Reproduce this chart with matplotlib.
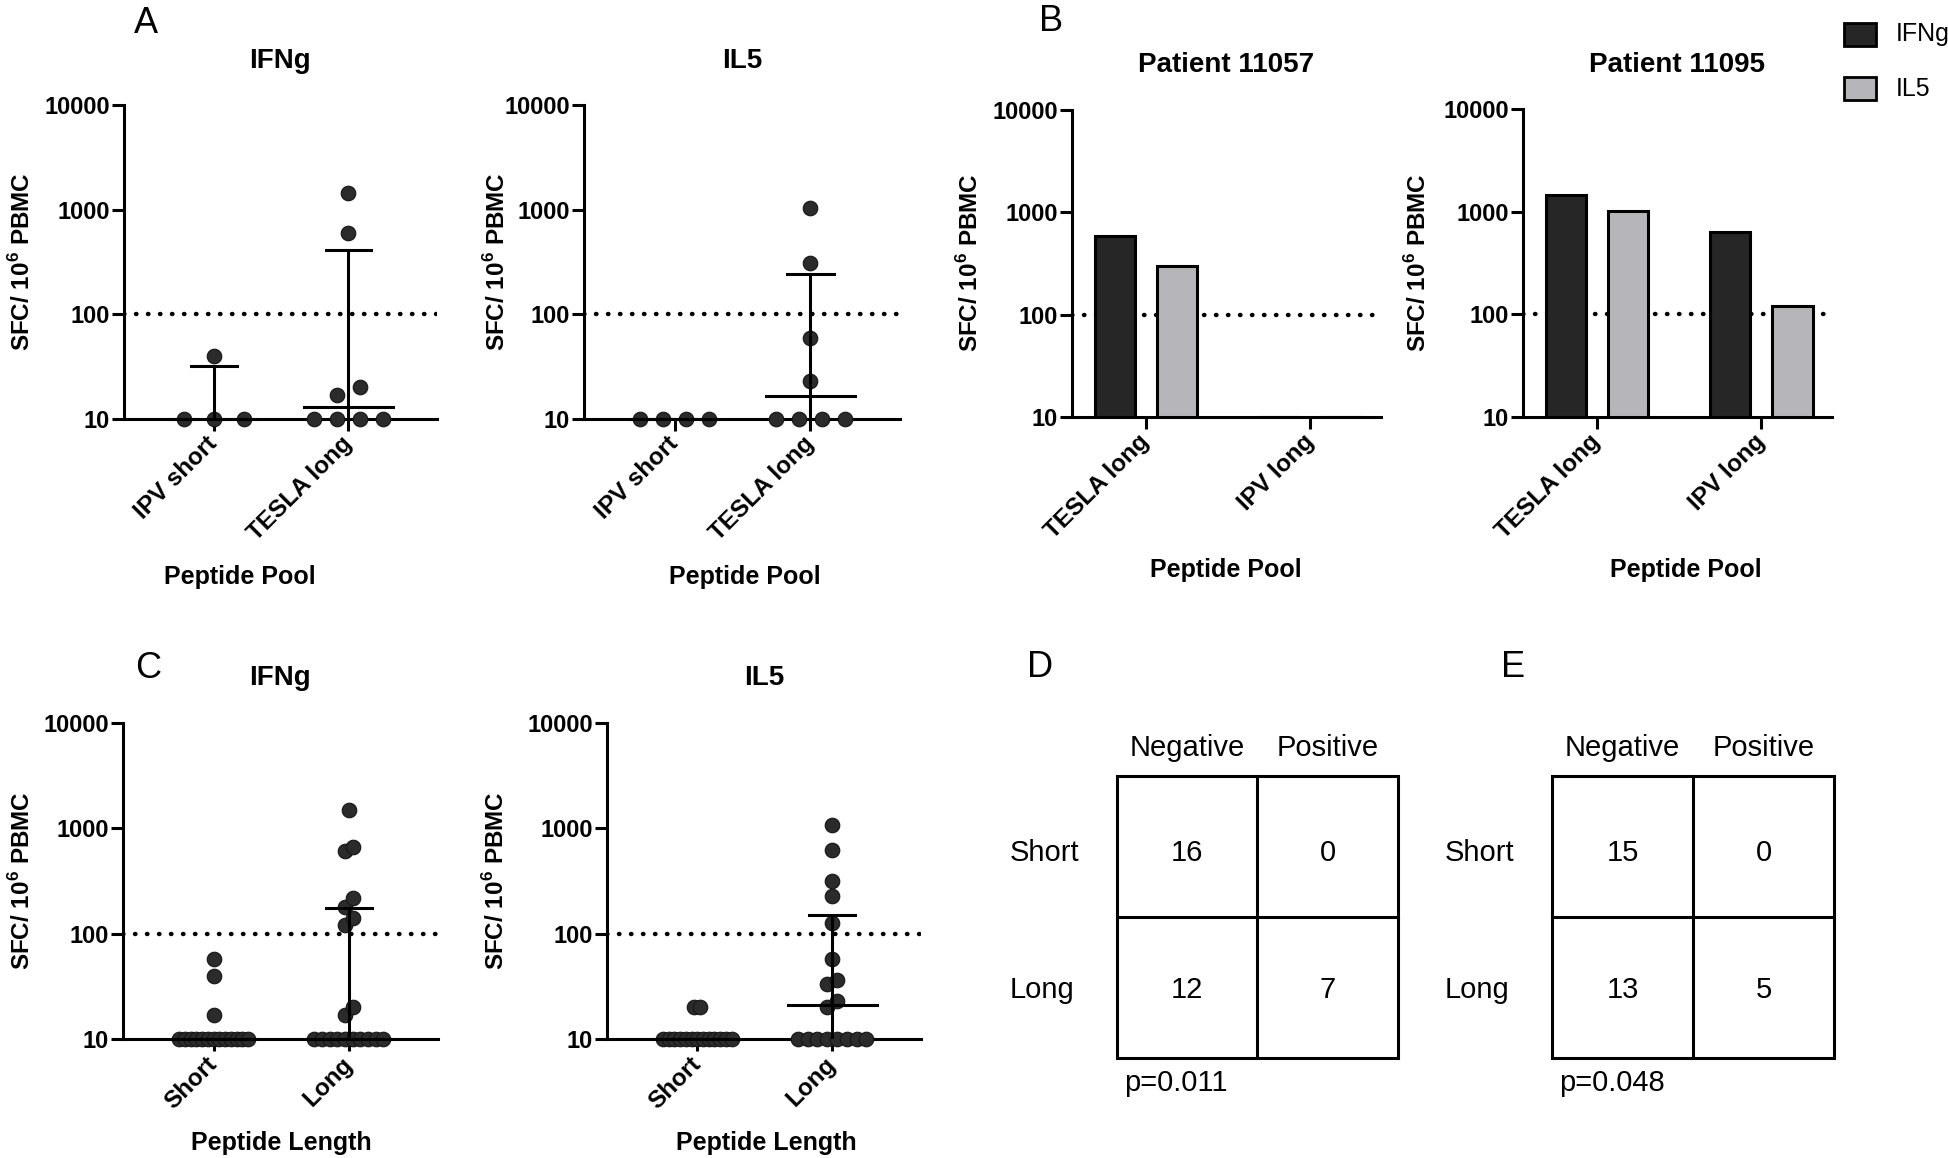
import numpy as np
import matplotlib
matplotlib.use('Agg')
import matplotlib.pyplot as plt
from matplotlib.patches import Rectangle
from matplotlib.ticker import NullLocator

plt.rcParams['font.family'] = ['Liberation Sans', 'DejaVu Sans']
plt.rcParams['mathtext.fontset'] = 'custom'
plt.rcParams['mathtext.rm'] = 'Liberation Sans'
plt.rcParams['mathtext.bf'] = 'Liberation Sans:bold'

W, H = 1949, 1158

# ---- panel A: spots per 10^6 PBMC by peptide pool
pools_a = ['IPV short', 'TESLA long']
a_ifng = [[10, 10, 10, 40], [10, 10, 10, 10, 17, 20, 601, 1456]]
a_ifng_median = [10, 13]
a_ifng_q3 = [32, 409]
a_il5 = [[10, 10, 10, 10], [10, 10, 10, 10, 23, 60, 311, 1043]]
a_il5_median = [10, 16.5]
a_il5_q3 = [10, 245]

# ---- panel B: single patients
pools_b = ['TESLA long', 'IPV long']
b_11057_ifng = [591, 10]
b_11057_il5 = [296, 10]
b_11095_ifng = [1443, 629]
b_11095_il5 = [1016, 121]

# ---- panel C: by peptide length
lengths = ['Short', 'Long']
c_ifng = [[10] * 13 + [17, 40, 57],
          [10] * 10 + [17, 20, 120, 141, 180, 220, 606, 662, 1483]]
c_ifng_median = [10, 10]
c_ifng_q3 = [10, 176]
c_il5 = [[10] * 13 + [20, 20],
         [10] * 8 + [20, 23, 33, 36, 57, 126, 228, 313, 620, 1076]]
c_il5_median = [10, 21]
c_il5_q3 = [10, 150]

# ---- panels D, E: contingency tables
table_cols = ['Negative', 'Positive']
table_rows = ['Short', 'Long']
d_counts = [[16, 0], [12, 7]]
e_counts = [[15, 0], [13, 5]]
d_p = 'p=0.011'
e_p = 'p=0.048'

floor_val = 10
cutoff = 100

DOT = '#2b2b2b'
IFNG_C = '#262626'
IL5_C = '#b6b6ba'
YLAB = r'SFC/ 10$^{\mathbf{6}}$ PBMC'


def px_rect(l, t, r, b):
    return [l / W, 1 - b / H, (r - l) / W, (b - t) / H]


def swarm(vals, step):
    # spread points with (almost) equal values side by side
    v = np.log10(np.asarray(vals, float))
    order = np.argsort(v, kind='stable')
    groups, cur = [], [order[0]]
    for i in order[1:]:
        if v[i] - v[cur[-1]] < 0.1:
            cur.append(i)
        else:
            groups.append(cur)
            cur = [i]
    groups.append(cur)
    off = np.zeros(len(v))
    for g in groups:
        n = len(g)
        off[g] = (np.arange(n) - (n - 1) / 2) * step
    return off


def col_step(vals):
    v = np.round(np.log10(vals), 1)
    _, counts = np.unique(v, return_counts=True)
    nmax = counts.max()
    return min(0.22, 0.51 / max(nmax - 1, 1))


def style(ax, labels, xlim):
    ax.set_yscale('log')
    ax.set_ylim(10, 10000)
    ax.set_xlim(*xlim)
    ax.set_yticks([10, 100, 1000, 10000])
    ax.set_yticklabels(['10', '100', '1000', '10000'])
    ax.yaxis.set_minor_locator(NullLocator())
    ax.set_xticks(range(len(labels)))
    ax.set_xticklabels(labels, rotation=45, ha='right', va='center',
                       rotation_mode='anchor')
    for s in ['top', 'right']:
        ax.spines[s].set_visible(False)
    for s in ['left', 'bottom']:
        ax.spines[s].set_linewidth(2.2)
    ax.tick_params(length=8.6, width=2.2)
    ax.tick_params(axis='y', pad=1.5, labelsize=17)
    ax.tick_params(axis='x', pad=7, labelsize=17.5)
    for lab in ax.get_xticklabels() + ax.get_yticklabels():
        lab.set_fontweight('bold')
    ax.patch.set_visible(False)
    ax.axhline(cutoff, color='k', lw=3.2, ls=(0, (0.1, 2.6)),
               dash_capstyle='round', zorder=1)


def dot_panel(ax, groups, med, q3, labels):
    style(ax, labels, (-0.67, 1.66))
    for i, vals in enumerate(groups):
        off = swarm(vals, col_step(vals))
        ax.scatter(i + off, vals, s=110, color=DOT, edgecolors='#151515',
                   linewidths=0.8, zorder=3, clip_on=False)
        ax.plot([i, i], [floor_val, q3[i]], color='k', lw=2.2, zorder=4)
        ax.plot([i - 0.17, i + 0.17], [q3[i], q3[i]], color='k', lw=2.2, zorder=4)
        ax.plot([i - 0.33, i + 0.33], [med[i], med[i]], color='k', lw=2.2,
                zorder=4, clip_on=False)


def bar_panel(ax, ifng, il5):
    style(ax, pools_b, (-0.45, 1.43))
    x = np.arange(len(pools_b))
    ax.bar(x - 0.19, np.array(ifng) - floor_val, bottom=floor_val, width=0.245,
           color=IFNG_C, edgecolor='k', linewidth=2.2, zorder=3)
    ax.bar(x + 0.19, np.array(il5) - floor_val, bottom=floor_val, width=0.245,
           color=IL5_C, edgecolor='k', linewidth=2.2, zorder=3)


fig = plt.figure(figsize=(W / 100, H / 100), dpi=100)
ov = fig.add_axes([0, 0, 1, 1])
ov.set_xlim(0, W)
ov.set_ylim(H, 0)
ov.axis('off')

ax = fig.add_axes(px_rect(124, 105, 437, 419))
dot_panel(ax, a_ifng, a_ifng_median, a_ifng_q3, pools_a)
ax = fig.add_axes(px_rect(584, 105, 900, 419))
dot_panel(ax, a_il5, a_il5_median, a_il5_q3, pools_a)
ax = fig.add_axes(px_rect(1072, 110, 1381, 417))
bar_panel(ax, b_11057_ifng, b_11057_il5)
ax = fig.add_axes(px_rect(1523, 109, 1832, 417))
bar_panel(ax, b_11095_ifng, b_11095_il5)
ax = fig.add_axes(px_rect(123, 723, 438, 1039))
dot_panel(ax, c_ifng, c_ifng_median, c_ifng_q3, lengths)
ax = fig.add_axes(px_rect(607, 723, 921, 1039))
dot_panel(ax, c_il5, c_il5_median, c_il5_q3, lengths)

bold = dict(fontweight='bold', ha='center', va='baseline')

# titles
for x, y, t in [(280, 68, 'IFNg'), (742, 68, 'IL5'),
                (1226, 72, 'Patient 11057'), (1677, 72, 'Patient 11095'),
                (280, 685, 'IFNg'), (764, 685, 'IL5')]:
    ov.text(x, y, t, fontsize=20, **bold)

# x titles
for x, y, t in [(240, 584, 'Peptide Pool'), (745, 584, 'Peptide Pool'),
                (1226, 577, 'Peptide Pool'), (1686, 577, 'Peptide Pool'),
                (281, 1150, 'Peptide Length'), (766, 1150, 'Peptide Length')]:
    ov.text(x, y, t, fontsize=18, **bold)

# y titles
for x, y in [(22, 262), (497, 262), (970, 263), (1418, 263), (22, 881), (496, 881)]:
    ov.text(x, y, YLAB, fontsize=17.5, fontweight='bold', rotation=90,
            ha='center', va='center')

# panel letters
for x, y, t in [(146, 33, 'A'), (1051, 31, 'B'), (148, 678, 'C'),
                (1040, 677, 'D'), (1513, 677, 'E')]:
    ov.text(x, y, t, fontsize=26, ha='center', va='baseline')

# legend for panel B
for y, c, t in [(23, IFNG_C, 'IFNg'), (77, IL5_C, 'IL5')]:
    ov.add_patch(Rectangle((1844, y), 32, 23, facecolor=c, edgecolor='k', lw=2))
    ov.text(1896, y + 11.5, t, fontsize=18, ha='left', va='center')


def draw_table(x0, x1, y0, y1, counts, p_text, label_x):
    xm, ym = (x0 + x1) / 2, (y0 + y1) / 2
    ov.add_patch(Rectangle((x0, y0), x1 - x0, y1 - y0, fill=False, lw=2.2, edgecolor='k'))
    ov.plot([xm, xm], [y0, y1], color='k', lw=2.2)
    ov.plot([x0, x1], [ym, ym], color='k', lw=2.2)
    colc = [(x0 + xm) / 2, (xm + x1) / 2]
    rowc = [(y0 + ym) / 2 + 4, (ym + y1) / 2]
    for j, c in enumerate(table_cols):
        ov.text(colc[j], y0 - 20, c, fontsize=21, ha='center', va='baseline')
    for i, r in enumerate(table_rows):
        ov.text(label_x, rowc[i] + 10.5, r, fontsize=21, ha='left', va='baseline')
        for j in range(len(table_cols)):
            ov.text(colc[j], rowc[i] + 10.5, str(counts[i][j]), fontsize=21,
                    ha='center', va='baseline')
    ov.text(x0 + 7, y1 + 33, p_text, fontsize=21, ha='left', va='baseline')


draw_table(1117, 1398, 776, 1058, d_counts, d_p, 1010)
draw_table(1552, 1834, 776, 1058, e_counts, e_p, 1445)

fig.savefig('out.png', dpi=100)
